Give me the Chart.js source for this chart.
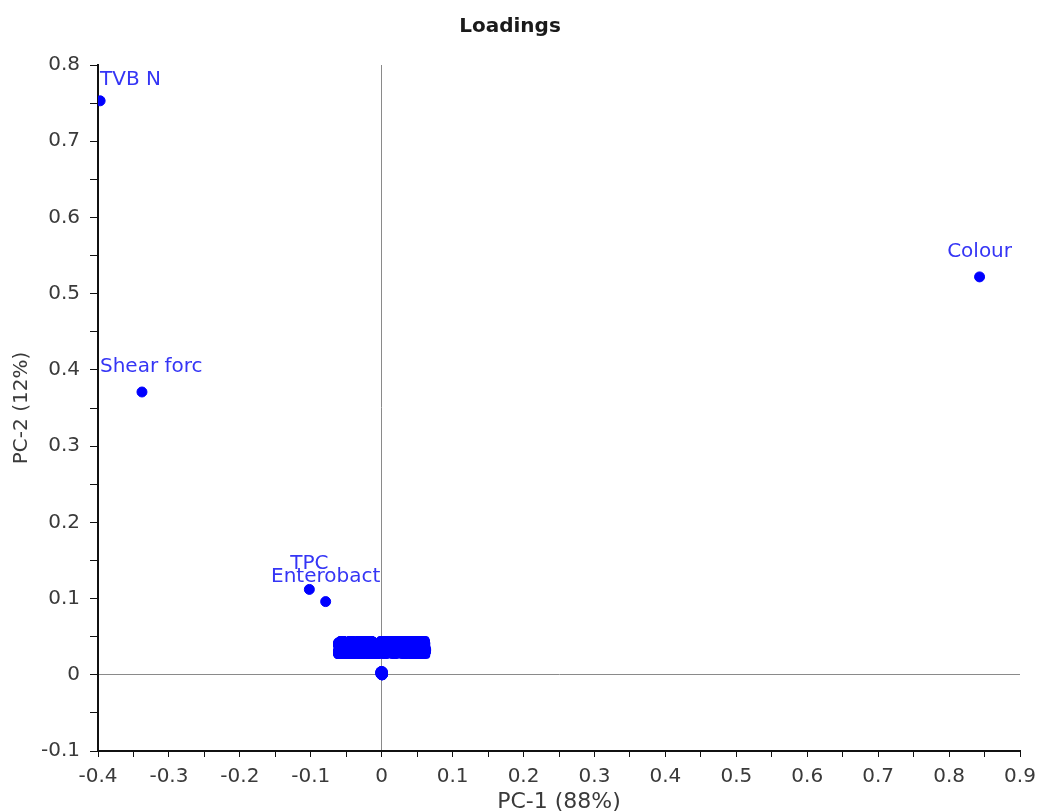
<!DOCTYPE html>
<html>
<head>
<meta charset="utf-8">
<script src="https://cdn.jsdelivr.net/npm/chart.js@4.4.0/dist/chart.umd.min.js"></script>
<style>
  body { margin: 0; background: #fff; }
  #wrap { width: 1037px; height: 811px; }
</style>
</head>
<body>
<div id="wrap"><canvas id="loadingsChart" width="1037" height="811"></canvas></div>
<script>
// variables with readable labels
let varNames = ['TVB N', 'Colour', 'Shear forc', 'TPC', 'Enterobact'];
let varPc1 = [-0.397, 0.843, -0.338, -0.102, -0.079];
let varPc2 = [0.753, 0.522, 0.371, 0.112, 0.096];

// spectral bands, all piled up on the origin
let bandNames = ['1001.25346', '1008.73912', '1016.40587', '1023.98164', '1031.62735', '1039.07298',
                 '1046.85521', '1054.31047', '1061.99683', '1069.54219', '1077.28874', '1084.66305',
                 '1092.43951', '1099.80426', '1107.52193', '1115.09768', '1122.71334', '1130.36809',
                 '1137.94452', '1145.58027', '1153.17693', '1160.82248', '1168.45815', '1176.03381'];
let bandPc1 = [-0.001, 0.001, 0.000, 0.001, 0.000, -0.001, 0.001, -0.001, 0.000, 0.000, -0.001, 0.001,
               -0.001, 0.001, 0.000, -0.001, 0.001, 0.000, 0.001, 0.000, -0.001, 0.001, -0.001, 0.000];
let bandPc2 = [0.001, 0.004, 0.000, 0.002, 0.004, 0.001, 0.003, 0.002, 0.000, 0.004, 0.002, 0.001,
               0.003, 0.000, 0.002, 0.004, 0.001, 0.003, 0.000, 0.002, 0.004, 0.001, 0.003, 0.002];

let xMin = -0.4, xMax = 0.9;
let yMin = -0.1, yMax = 0.8;
let tickStep = 0.05;

const FONT = '"DejaVu Sans", Verdana, sans-serif';

function tenthLabel(v) {
    let t = v * 10;
    if (Math.abs(Math.round(t) - t) > 1e-6) return '';
    let r = Math.round(t) / 10;
    return r === 0 ? '0' : String(r);
}

// writes each variable name centred above its dot, kept inside the plot
const pointLabels = {
    id: 'pointLabels',
    afterDatasetsDraw(chart) {
        let ctx = chart.ctx;
        let area = chart.chartArea;
        chart.data.datasets.forEach((ds, i) => {
            let meta = chart.getDatasetMeta(i);
            ctx.save();
            ctx.font = ds.labelFont;
            ctx.fillStyle = ds.labelColor;
            ctx.strokeStyle = ds.labelColor;
            ctx.lineJoin = 'round';
            ctx.textBaseline = 'alphabetic';
            meta.data.forEach((pt, j) => {
                let text = ds.names[j];
                let w = ctx.measureText(text).width;
                let x = pt.x - w / 2;
                if (x < area.left + 2) x = area.left + 2;
                if (x + w > area.right) x = area.right - w;
                let y = Math.max(pt.y - 20, area.top + 20);
                if (ds.labelStroke) {
                    ctx.lineWidth = ds.labelStroke;
                    ctx.strokeText(text, x, y);
                }
                ctx.fillText(text, x, y);
            });
            ctx.restore();
        });
    }
};

let zeroLine = (c) => c.tick && Math.abs(c.tick.value) < 1e-9 ? '#8a8a8a' : 'rgba(0,0,0,0)';

let ctx = document.getElementById('loadingsChart').getContext('2d');
new Chart(ctx, {
    type: 'scatter',
    data: {
        datasets: [{
            data: bandPc1.map((x, i) => ({ x: x, y: bandPc2[i] })),
            names: bandNames,
            labelFont: 'bold 17px "Liberation Sans", Arial, sans-serif',
            labelColor: '#0000ff',
            labelStroke: 8,
            backgroundColor: '#0000ff',
            borderColor: '#0000ff',
            pointRadius: 5
        }, {
            data: varPc1.map((x, i) => ({ x: x, y: varPc2[i] })),
            names: varNames,
            labelFont: '20px ' + FONT,
            labelColor: '#3535f5',
            backgroundColor: '#0000ff',
            borderColor: '#0000ff',
            pointRadius: 5
        }]
    },
    options: {
        responsive: false,
        animation: false,
        devicePixelRatio: 1,
        layout: { padding: { left: 0, right: 17, top: 0, bottom: 0 } },
        plugins: {
            legend: { display: false },
            tooltip: { enabled: false },
            title: {
                display: true,
                text: 'Loadings',
                color: '#1a1a1a',
                font: { family: FONT, size: 20, weight: 'bold', lineHeight: 1.2 },
                padding: { top: 15, bottom: 26 }
            }
        },
        scales: {
            x: {
                type: 'linear',
                min: xMin,
                max: xMax,
                afterFit: (s) => {
                    s.height = 60;
                    s.paddingRight = 10;
                    s.paddingLeft = 0;
                },
                ticks: {
                    stepSize: tickStep,
                    autoSkip: false,
                    maxRotation: 0,
                    padding: 8,
                    color: '#3a3a3a',
                    font: { family: FONT, size: 20 },
                    callback: (v) => tenthLabel(v)
                },
                grid: { color: zeroLine, tickColor: '#111', tickLength: 6, lineWidth: 1 },
                border: { display: true, color: '#111', width: 2 },
                title: {
                    display: true,
                    text: 'PC-1 (88%)',
                    color: '#3a3a3a',
                    font: { family: FONT, size: 22, lineHeight: 0.8 },
                    padding: { top: 0, bottom: 0 }
                }
            },
            y: {
                type: 'linear',
                min: yMin,
                max: yMax,
                afterFit: (s) => { s.width = 98; },
                ticks: {
                    stepSize: tickStep,
                    autoSkip: false,
                    padding: 10,
                    color: '#3a3a3a',
                    font: { family: FONT, size: 20 },
                    callback: (v) => tenthLabel(v)
                },
                grid: { color: zeroLine, tickColor: '#111', tickLength: 8, lineWidth: 1 },
                border: { display: true, color: '#111', width: 2 },
                title: {
                    display: true,
                    text: 'PC-2 (12%)',
                    color: '#3a3a3a',
                    font: { family: FONT, size: 20 },
                    padding: { top: 10, bottom: 0 }
                }
            }
        }
    },
    plugins: [pointLabels]
});
</script>
</body>
</html>
